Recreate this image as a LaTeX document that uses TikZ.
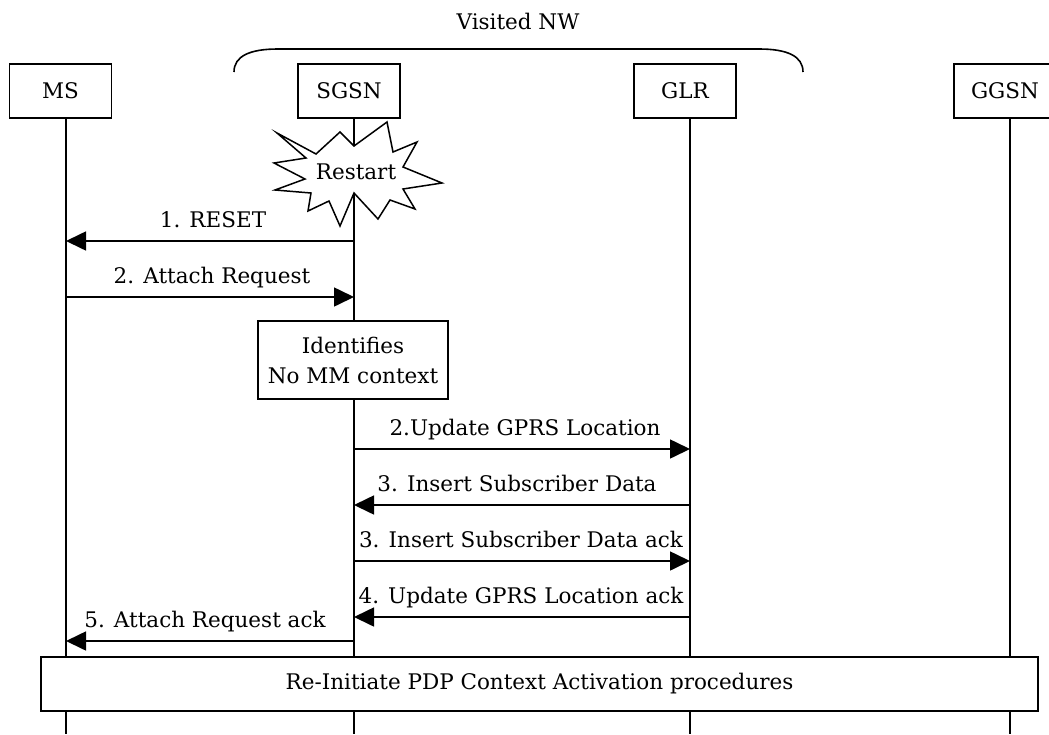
\documentclass[tikz,border=0pt]{standalone}
\usepackage{fontspec}
\setmainfont{DejaVu Serif}
\usetikzlibrary{arrows.meta}
\begin{document}
\begin{tikzpicture}[x=1pt,y=-1pt,
  every node/.style={font=\fontsize{21.5}{30}\selectfont, inner sep=0pt},
  actor/.style={draw, line width=1.6pt, minimum width=102pt, minimum height=54pt, fill=white},
  life/.style={line width=1.6pt},
  msg/.style={line width=1.6pt, -{Triangle[length=20pt,width=19pt]}},
  lbl/.style={anchor=base},
  note/.style={draw, line width=1.6pt, fill=white, align=center}]
\useasboundingbox (0,0) rectangle (1049,734);
\clip (0,0) rectangle (1049,734);

% network brace and title
\node (vnw) at (518,21) {Visited NW};
\coordinate (braceL) at (234,72);
\coordinate (braceR) at (803,72);
\draw[line width=1.6pt] (braceL) .. controls (234,56) and (250,49) .. (278,49) -- (759,49) .. controls (787,49) and (803,56) .. (braceR);

% lifelines
\coordinate (msT) at (66,118);   \coordinate (msB) at (66,734);
\coordinate (sgT) at (354,118);  \coordinate (sgB) at (354,734);
\coordinate (glT) at (690,118);  \coordinate (glB) at (690,734);
\coordinate (ggT) at (1010,118); \coordinate (ggB) at (1010,734);
\draw[life] (msT) -- (msB);
\draw[life] (sgT) -- (sgB);
\draw[life] (glT) -- (glB);
\draw[life] (ggT) -- (ggB);

% actors
\node[actor] (ms) at (60.5,91) {MS};
\node[actor] (sgsn) at (349,91) {SGSN};
\node[actor] (glr) at (685,91) {GLR};
\node[actor] (ggsn) at (1005,91) {GGSN};

% restart burst
\draw[line width=1.5pt, fill=white, line join=miter]
  (277,133) -- (316,154) -- (340,132) -- (354,146) -- (387,122) -- (393,152)
  -- (417,142) -- (403,167) -- (442,183) -- (403,189) -- (415,209) -- (390,200)
  -- (378,219) -- (354,193) -- (340,226) -- (329,201) -- (308,211) -- (311,193)
  -- (275,190) -- (305,179) -- (274,163) -- (306,158) -- cycle;
\node (restart) at (356,172) {Restart};

% messages
\coordinate (m1a) at (354,241); \coordinate (m1b) at (66,241);
\draw[msg] (m1a) -- (m1b);
\node[lbl] (l1) at (213,227) {1. RESET};

\coordinate (m2a) at (66,297); \coordinate (m2b) at (354,297);
\draw[msg] (m2a) -- (m2b);
\node[lbl] (l2) at (212,283) {2. Attach Request};

\node[note, minimum width=190pt, minimum height=78pt] (ident) at (353,360) {Identifies\\No MM context};

\coordinate (m3a) at (354,449); \coordinate (m3b) at (690,449);
\draw[msg] (m3a) -- (m3b);
\node[lbl] (l3) at (525,435) {2.Update GPRS Location};

\coordinate (m4a) at (690,505); \coordinate (m4b) at (354,505);
\draw[msg] (m4a) -- (m4b);
\node[lbl] (l4) at (517,491) {3. Insert Subscriber Data};

\coordinate (m5a) at (354,561); \coordinate (m5b) at (690,561);
\draw[msg] (m5a) -- (m5b);
\node[lbl] (l5) at (521,547) {3. Insert Subscriber Data ack};

\coordinate (m6a) at (690,617); \coordinate (m6b) at (354,617);
\draw[msg] (m6a) -- (m6b);
\node[lbl] (l6) at (521,603) {4. Update GPRS Location ack};

\coordinate (m7a) at (354,641); \coordinate (m7b) at (66,641);
\draw[msg] (m7a) -- (m7b);
\node[lbl] (l7) at (205,627) {5. Attach Request ack};

\node[note, minimum width=997pt, minimum height=54pt] (pdp) at (539.5,684) {Re-Initiate PDP Context Activation procedures};
\end{tikzpicture}
\end{document}
